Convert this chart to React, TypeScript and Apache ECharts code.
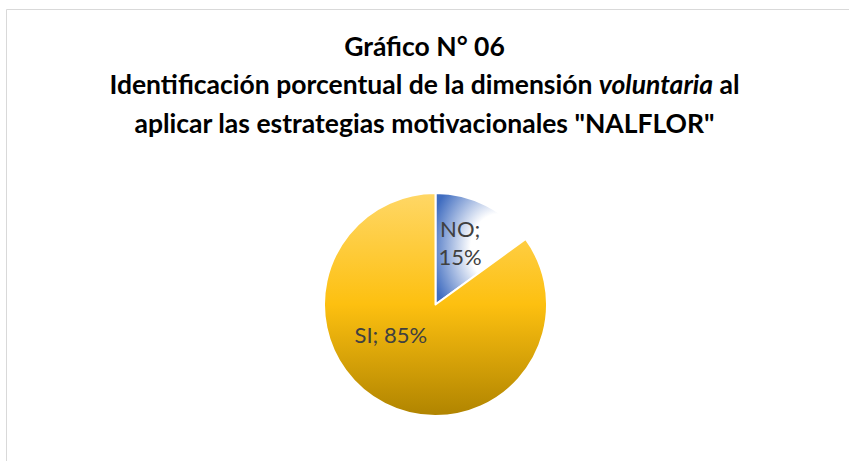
import React, { useEffect, useRef } from "react";
import * as echarts from "echarts";

const categories = ["NO", "SI"];
const values = [15, 85];
const titleLines = [
  "Gráfico N° 06",
  "Identificación porcentual de la dimensión {i|voluntaria} al",
  'aplicar las estrategias motivacionales "NALFLOR"',
];

const FONT = "Lato";

export default function App() {
  const ref = useRef<HTMLDivElement>(null);
  useEffect(() => {
    document.body.style.margin = "0";
    const chart = echarts.init(ref.current!, null, { renderer: "svg" });
    const colors = [
      new echarts.graphic.RadialGradient(0.7, 0.5, 0.78, [
        { offset: 0, color: "#ffffff" },
        { offset: 0.4, color: "#ffffff" },
        { offset: 1, color: "#3f6cc0" },
      ]),
      new echarts.graphic.LinearGradient(0, 0, 0, 1, [
        { offset: 0, color: "#ffd766" },
        { offset: 0.5, color: "#fdc010" },
        { offset: 1, color: "#b08400" },
      ]),
    ];
    chart.setOption({
      animation: false,
      backgroundColor: "#ffffff",
      title: {
        text: titleLines.join("\n"),
        left: "center",
        top: 22,
        textStyle: {
          fontFamily: FONT,
          fontWeight: "bold",
          fontSize: 26.5,
          color: "#000000",
          lineHeight: 38.2,
          rich: {
            i: {
              fontFamily: FONT,
              fontWeight: "bold",
              fontStyle: "italic",
              fontSize: 26.5,
              color: "#000000",
              lineHeight: 38.2,
            },
          },
        },
      },
      graphic: [
        {
          type: "rect",
          shape: { x: 6.5, y: 9.5, width: 900, height: 500 },
          style: { fill: "none", stroke: "#d9d9d9", lineWidth: 1 },
          silent: true,
        },
      ],
      series: [
        {
          type: "pie",
          center: [435.5, 304.5],
          radius: [0, 111.5],
          startAngle: 90,
          clockwise: true,
          itemStyle: { borderColor: "#ffffff", borderWidth: 2 },
          label: {
            show: true,
            position: "inside",
            fontFamily: FONT,
            fontSize: 22,
            color: "#404040",
            lineHeight: 28,
            formatter: (p: any) =>
              p.dataIndex === 0 ? `${p.name};\n${p.percent}%` : `${p.name}; ${p.percent}%`,
          },
          labelLayout: (p: any) =>
            p.dataIndex === 0 ? { dx: -2, dy: -10 } : { dx: -18, dy: -22 },
          labelLine: { show: false },
          data: categories.map((c, i) => ({
            name: c,
            value: values[i],
            itemStyle: { color: colors[i] },
          })),
        },
      ],
    });
    return () => chart.dispose();
  }, []);
  return (
    <div
      ref={ref}
      style={{ position: "absolute", left: 0, top: 0, width: 849, height: 461 }}
    />
  );
}
